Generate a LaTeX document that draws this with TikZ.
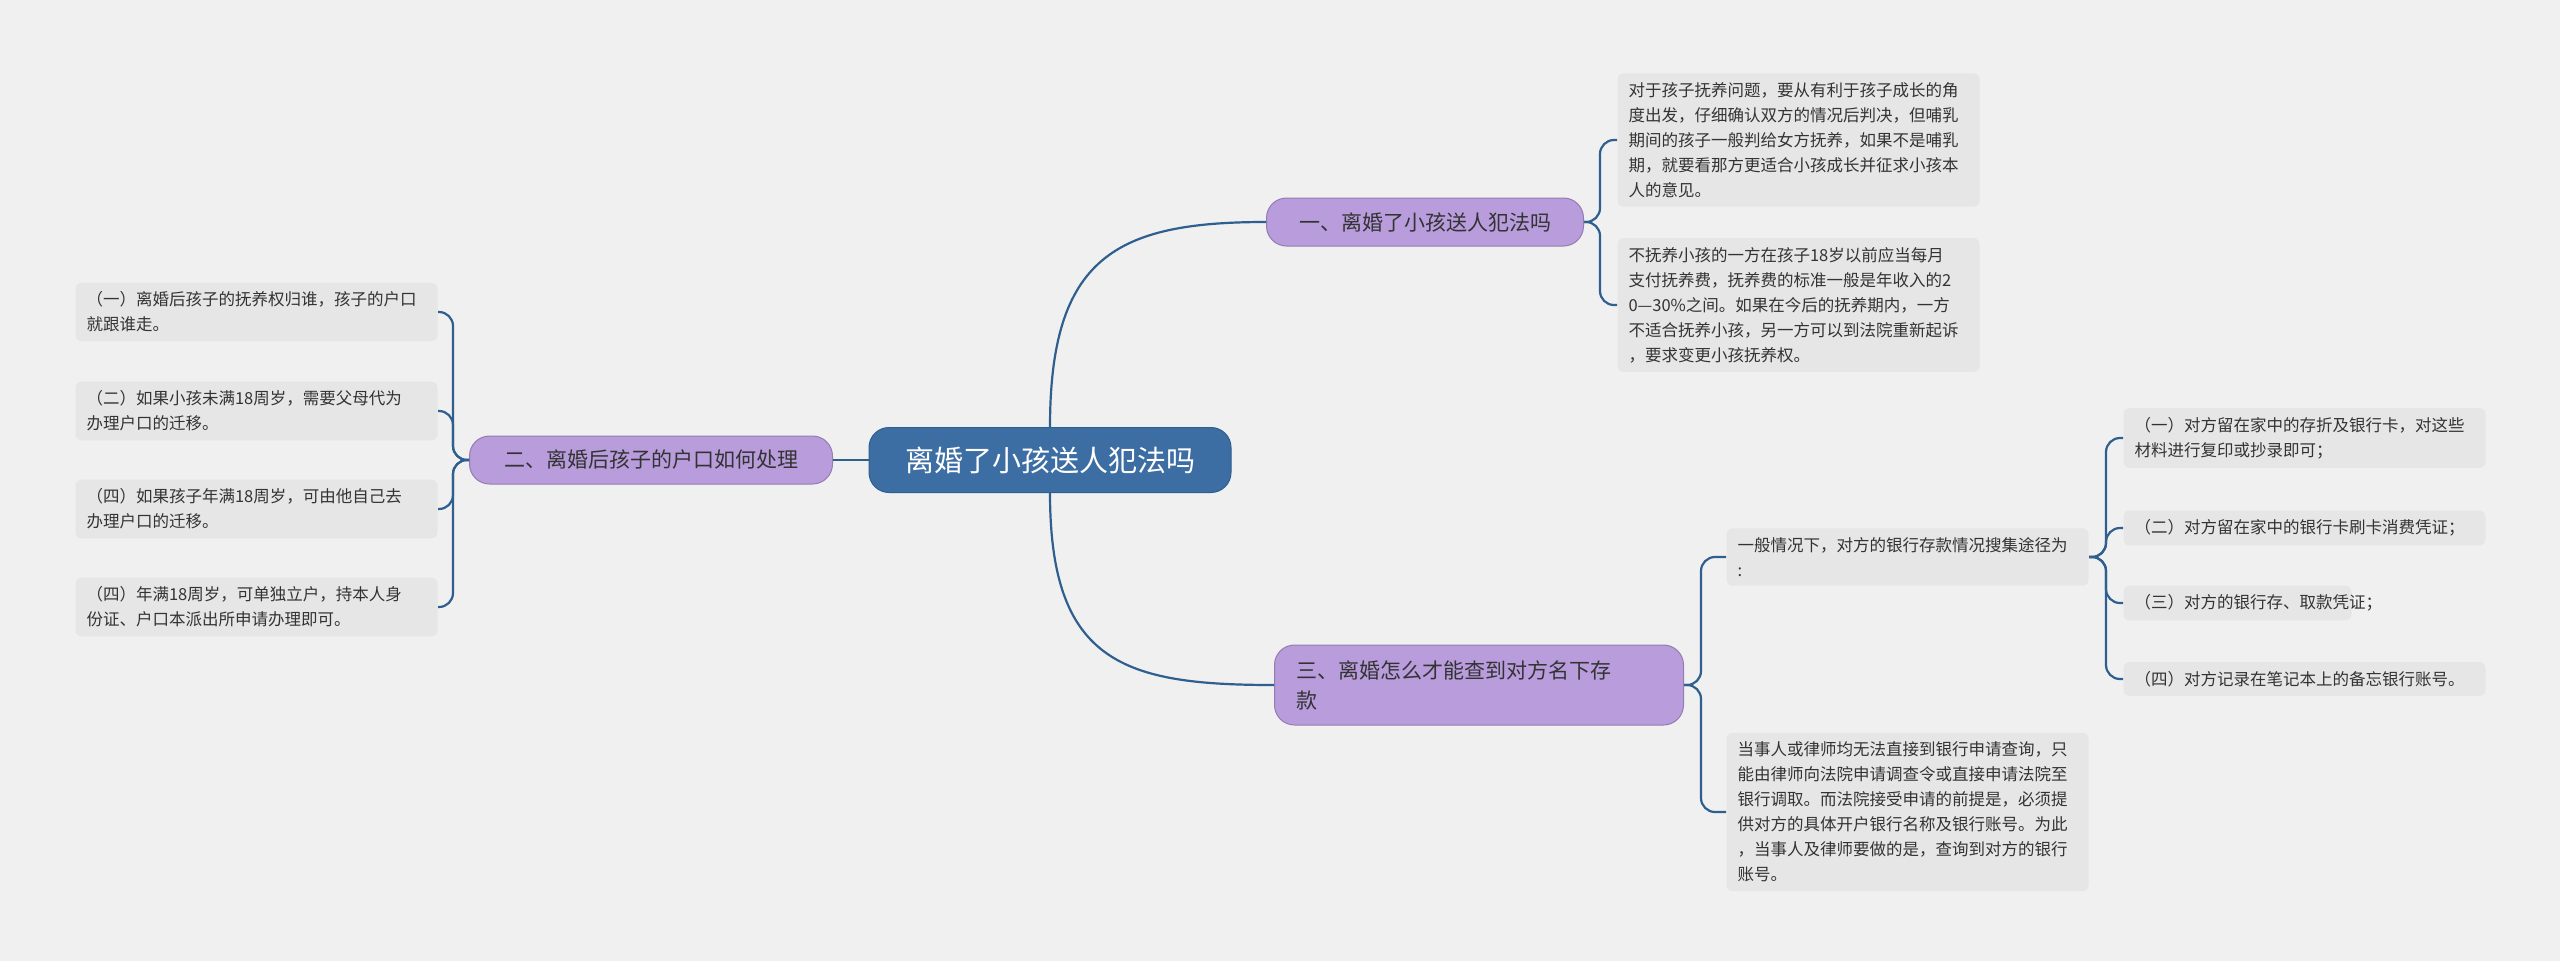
\documentclass[tikz,border=0pt]{standalone}
\usepackage{fontspec}
\setmainfont{Noto Sans CJK SC}
\definecolor{bgcol}{HTML}{F0F0F0}
\definecolor{rootcol}{HTML}{3D6EA3}
\definecolor{branchcol}{HTML}{B89CDC}
\definecolor{leafcol}{HTML}{E6E6E6}
\definecolor{linkcol}{HTML}{2E5F8F}
\tikzset{every picture/.style={line width=1pt}}
\tikzset{
  rootnode/.style={rounded corners=20, fill=rootcol, draw=linkcol, text=white, font=\fontsize{29}{36}\selectfont, minimum width=362, minimum height=65},
  branchnode/.style={rounded corners=20, fill=branchcol, draw=branchcol!80!black, text=black!80, font=\fontsize{21}{30}\selectfont, inner xsep=22, minimum height=48, align=left},
  leafnode/.style={rounded corners=6, fill=leafcol, text=black!80, font=\fontsize{16.5}{25}\selectfont, text width=340, inner xsep=11, inner ysep=9, align=left},
  link/.style={draw=linkcol, line width=2.2pt},
}
\begin{document}
\begin{tikzpicture}[x=1pt,y=1pt,yscale=-1,xscale=1]
	\fill[bgcol] (0,0) rectangle (2560,961);
	\useasboundingbox (0,0) rectangle (2560,961);

	% root
	\node[rootnode] (root) at (1050,460) {离婚了小孩送人犯法吗};

	% branches
	\node[branchnode, minimum width=317] (b1) at (1425,222) {一、离婚了小孩送人犯法吗};
	\node[branchnode, minimum width=363] (b2) at (651,460) {二、离婚后孩子的户口如何处理};
	\node[branchnode, text width=365, minimum height=80] (b3) at (1479,685) {三、离婚怎么才能查到对方名下存\\款};

	% leaves of b1
	\node[leafnode, anchor=west] (l11) at (1617,140) {对于孩子抚养问题，要从有利于孩子成长的角\\度出发，仔细确认双方的情况后判决，但哺乳\\期间的孩子一般判给女方抚养，如果不是哺乳\\期，就要看那方更适合小孩成长并征求小孩本\\人的意见。};
	\node[leafnode, anchor=west] (l12) at (1617,305) {不抚养小孩的一方在孩子18岁以前应当每月\\支付抚养费，抚养费的标准一般是年收入的2\\0—30\%之间。如果在今后的抚养期内，一方\\不适合抚养小孩，另一方可以到法院重新起诉\\，要求变更小孩抚养权。};

	% leaves of b2
	\node[leafnode, anchor=west] (l21) at (75,312) {（一）离婚后孩子的抚养权归谁，孩子的户口\\就跟谁走。};
	\node[leafnode, anchor=west] (l22) at (75,411) {（二）如果小孩未满18周岁，需要父母代为\\办理户口的迁移。};
	\node[leafnode, anchor=west] (l23) at (75,509) {（四）如果孩子年满18周岁，可由他自己去\\办理户口的迁移。};
	\node[leafnode, anchor=west] (l24) at (75,607) {（四）年满18周岁，可单独立户，持本人身\\份证、户口本派出所申请办理即可。};

	% leaves of b3
	\node[leafnode, anchor=west] (l31) at (1726,557) {一般情况下，对方的银行存款情况搜集途径为\\:};
	\node[leafnode, anchor=west] (l32) at (1726,812) {当事人或律师均无法直接到银行申请查询，只\\能由律师向法院申请调查令或直接申请法院至\\银行调取。而法院接受申请的前提是，必须提\\供对方的具体开户银行名称及银行账号。为此\\，当事人及律师要做的是，查询到对方的银行\\账号。};

	% leaves of l31
	\node[leafnode, anchor=west] (m1) at (2123,438) {（一）对方留在家中的存折及银行卡，对这些\\材料进行复印或抄录即可；};
	\node[leafnode, anchor=west] (m2) at (2123,528) {（二）对方留在家中的银行卡刷卡消费凭证；};
	\node[leafnode, anchor=west, text width=206] (m3) at (2123,603) {（三）对方的银行存、取款凭证；};
	\node[leafnode, anchor=west] (m4) at (2123,679) {（四）对方记录在笔记本上的备忘银行账号。};

	% connectors
	\draw[link] (root.north) .. controls +(0,-170) and +(-150,0) .. (b1.west);
	\draw[link] (root.south) .. controls +(0,170) and +(-150,0) .. (b3.west);
	\draw[link] (root.west) -- (b2.east);

	\foreach \leaf in {l11,l12}
		\draw[link, rounded corners=14] (b1.east) -- ++(16,0) |- (\leaf.west);
	\foreach \leaf in {l21,l22,l23,l24}
		\draw[link, rounded corners=14] (b2.west) -- ++(-16,0) |- (\leaf.east);
	\foreach \leaf in {l31,l32}
		\draw[link, rounded corners=14] (b3.east) -- ++(17,0) |- (\leaf.west);
	\foreach \leaf in {m1,m2,m3,m4}
		\draw[link, rounded corners=14] (l31.east) -- ++(17,0) |- (\leaf.west);

\end{tikzpicture}
\end{document}
